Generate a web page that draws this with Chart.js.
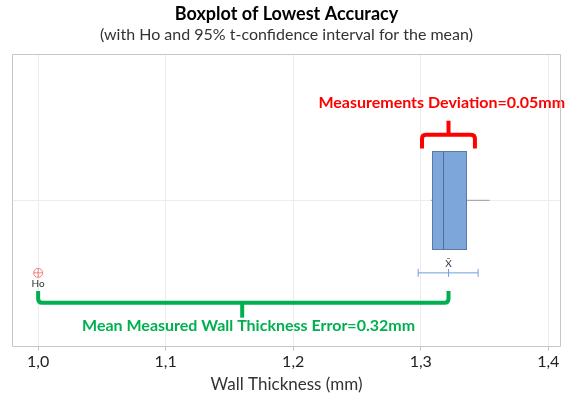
<!DOCTYPE html>
<html lang="en">
<head>
<meta charset="UTF-8">
<title>Boxplot of Lowest Accuracy</title>
<script src="https://cdn.jsdelivr.net/npm/chart.js"></script>
<style>
  body { margin: 0; background: #fff; }
  .wrap { width: 570px; height: 398px; }
</style>
</head>
<body>
<div class="wrap"><canvas id="boxChart"></canvas></div>

<script>
// values (x = wall thickness, mm)
const quartiles = [1.309, 1.3176, 1.336];   // Q1, median, Q3
const whiskers = [1.308, 1.354];            // min, max
const ciBounds = [1.298, 1.345];            // 95% t-interval for the mean
const meanValue = 1.3218;
const hoValue = 1.0;
const tickValues = [1.0, 1.1, 1.2, 1.3, 1.4];
const tickLabels = ['1,0', '1,1', '1,2', '1,3', '1,4'];

// annotation braces: [from, to, middle]
const redBrace = [1.301, 1.3425, 1.3218];
const greenBrace = [hoValue, meanValue, 1.160];

const FONT = "Lato, 'Open Sans', sans-serif";

// y positions on a 0..1 helper axis
const boxY = 0.5, boxHalf = 0.168, ciY = 0.252;

const boxPlugin = {
  id: 'boxPlugin',
  beforeDatasetsDraw(chart) {
    const { ctx, chartArea: a, scales: { y } } = chart;
    ctx.save();
    // horizontal gridline at the box row
    ctx.strokeStyle = '#ececec';
    ctx.lineWidth = 1;
    ctx.beginPath();
    ctx.moveTo(a.left, Math.round(y.getPixelForValue(boxY)) + 0.5);
    ctx.lineTo(a.right, Math.round(y.getPixelForValue(boxY)) + 0.5);
    ctx.stroke();
    ctx.restore();
  },
  afterDatasetsDraw(chart) {
    const { ctx, chartArea: a, scales: { x, y } } = chart;
    ctx.save();

    // box
    const x1 = x.getPixelForValue(quartiles[0]);
    const x3 = x.getPixelForValue(quartiles[2]);
    const yt = y.getPixelForValue(boxY + boxHalf);
    const yb = y.getPixelForValue(boxY - boxHalf);
    ctx.fillStyle = '#7da6da';
    ctx.fillRect(x1, yt, x3 - x1, yb - yt);
    ctx.strokeStyle = '#5b79a3';
    ctx.lineWidth = 1;
    ctx.strokeRect(Math.round(x1) + 0.5, Math.round(yt) + 0.5, Math.round(x3 - x1), Math.round(yb - yt));
    const xm = Math.round(x.getPixelForValue(quartiles[1])) + 0.5;
    ctx.strokeStyle = '#4f6d96';
    ctx.beginPath();
    ctx.moveTo(xm, yt);
    ctx.lineTo(xm, yb);
    ctx.stroke();

    // small labels
    ctx.fillStyle = '#333';
    ctx.font = '10px ' + FONT;
    ctx.textAlign = 'center';
    ctx.textBaseline = 'middle';
    ctx.fillText('Ho', x.getPixelForValue(hoValue), y.getPixelForValue(ciY) + 11);
    ctx.fillText('X\u0304', x.getPixelForValue(meanValue), y.getPixelForValue(ciY) - 9);

    // braces
    drawBrace(ctx, x, y, redBrace, 0.677, 0.724, 0.772, '#ff0000');
    drawBrace(ctx, x, y, greenBrace, 0.190, 0.150, 0.099, '#00b050');

    ctx.font = 'bold 16px ' + FONT;
    ctx.fillStyle = '#ff0000';
    ctx.fillText('Measurements Deviation=0.05mm', x.getPixelForValue(1.3165), y.getPixelForValue(0.833));
    ctx.fillStyle = '#00b050';
    ctx.fillText('Mean Measured Wall Thickness Error=0.32mm', x.getPixelForValue(1.165), y.getPixelForValue(0.071));

    // plot frame
    ctx.strokeStyle = '#c6c6c6';
    ctx.lineWidth = 1;
    ctx.strokeRect(Math.round(a.left) + 0.5, Math.round(a.top) + 0.5, Math.round(a.width) - 1, Math.round(a.height) - 1);
    ctx.restore();
  }
};

function drawBrace(ctx, x, y, brace, endY, barY, tipY, color) {
  const xa = x.getPixelForValue(brace[0]);
  const xb = x.getPixelForValue(brace[1]);
  const xc = x.getPixelForValue(brace[2]);
  const ye = y.getPixelForValue(endY);
  const yh = y.getPixelForValue(barY);
  const yt = y.getPixelForValue(tipY);
  const r = 4;
  const dir = yh > ye ? 1 : -1;
  ctx.strokeStyle = color;
  ctx.lineWidth = 4;
  ctx.lineJoin = 'round';
  ctx.lineCap = 'butt';
  ctx.beginPath();
  ctx.moveTo(xa, ye);
  ctx.lineTo(xa, yh - dir * r);
  ctx.quadraticCurveTo(xa, yh, xa + r, yh);
  ctx.lineTo(xb - r, yh);
  ctx.quadraticCurveTo(xb, yh, xb, yh - dir * r);
  ctx.lineTo(xb, ye);
  ctx.stroke();
  ctx.beginPath();
  ctx.moveTo(xc, yh);
  ctx.lineTo(xc, yt);
  ctx.stroke();
}

const ctx = document.getElementById('boxChart').getContext('2d');
new Chart(ctx, {
  type: 'scatter',
  data: {
    datasets: [
      {
        // whisker
        data: [{ x: whiskers[0], y: boxY }, { x: whiskers[1], y: boxY }],
        showLine: true,
        borderColor: '#9a9a9a',
        borderWidth: 1,
        pointRadius: 0
      },
      {
        // confidence interval with end caps and mean tick
        data: [{ x: ciBounds[0], y: ciY }, { x: meanValue, y: ciY }, { x: ciBounds[1], y: ciY }],
        showLine: true,
        borderColor: '#6f9fe0',
        borderWidth: 1,
        pointStyle: 'line',
        rotation: 90,
        pointRadius: 4,
        pointBorderColor: '#6f9fe0',
        pointBorderWidth: 1
      },
      {
        // Ho marker
        data: [{ x: hoValue, y: ciY }],
        pointStyle: 'circle',
        pointRadius: 4.5,
        pointBackgroundColor: 'rgba(0,0,0,0)',
        pointBorderColor: '#f08080',
        pointBorderWidth: 1
      },
      {
        data: [{ x: hoValue, y: ciY }],
        pointStyle: 'cross',
        pointRadius: 4.5,
        pointBorderColor: '#f08080',
        pointBorderWidth: 1
      }
    ]
  },
  options: {
    responsive: true,
    maintainAspectRatio: false,
    animation: false,
    layout: { padding: { left: 12, right: 9, top: 0, bottom: 0 } },
    plugins: {
      legend: { display: false },
      tooltip: { enabled: false },
      title: {
        display: true,
        text: 'Boxplot of Lowest Accuracy',
        color: '#000',
        font: { family: FONT, size: 18, weight: 'bold' },
        padding: { top: 3, bottom: 1 }
      },
      subtitle: {
        display: true,
        text: '(with Ho and 95% t-confidence interval for the mean)',
        color: '#333',
        font: { family: FONT, size: 16 },
        padding: { top: 0, bottom: 9.2 }
      }
    },
    scales: {
      x: {
        type: 'linear',
        min: 0.9795,
        max: 1.41,
        afterBuildTicks: (scale) => { scale.ticks = tickValues.map(v => ({ value: v })); },
        ticks: {
          color: '#222',
          padding: 1.4,
          autoSkip: false,
          maxRotation: 0,
          font: { family: FONT, size: 16 },
          callback: (value) => tickLabels[tickValues.indexOf(value)]
        },
        grid: { color: '#ececec', tickLength: 4, tickColor: '#c6c6c6' },
        border: { display: false },
        title: {
          display: true,
          text: 'Wall Thickness (mm)',
          color: '#333',
          font: { family: FONT, size: 17 },
          padding: { top: 2.2, bottom: 2.8 }
        }
      },
      y: {
        type: 'linear',
        min: 0,
        max: 1,
        display: false
      }
    }
  },
  plugins: [boxPlugin]
});
</script>
</body>
</html>
